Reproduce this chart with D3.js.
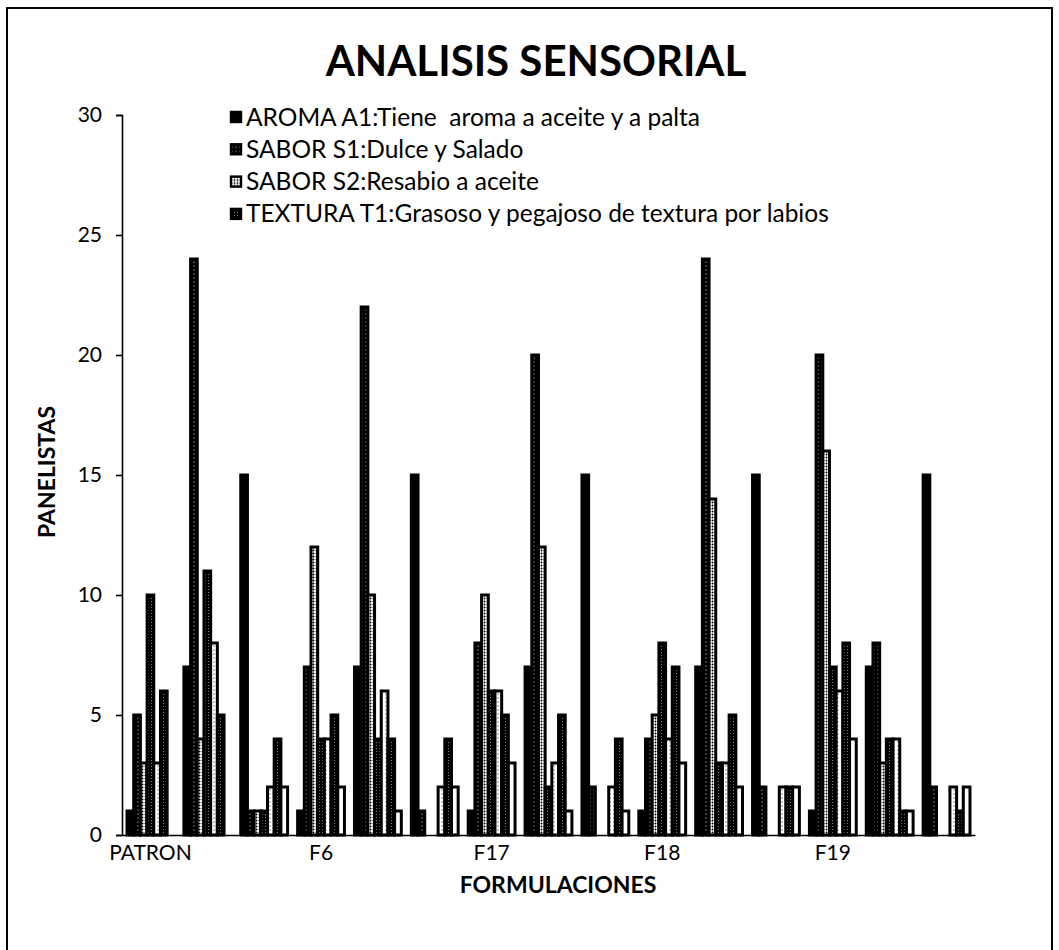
<!DOCTYPE html>
<html>
<head>
<meta charset="utf-8">
<script src="https://cdn.jsdelivr.net/npm/d3@7/dist/d3.min.js"></script>
<style>
  html, body { margin: 0; padding: 0; background: #fff; }
  svg { display: block; }
  text { font-family: Lato, "Open Sans", sans-serif; fill: #000; }
</style>
</head>
<body>
<script>
// Formulations; each one spans three consecutive categories on the x axis
const formulaciones = ["PATRON", "F6", "F17", "F18", "F19"];
const categories = formulaciones.flatMap(f => [f + "-a", f + "-b", f + "-c"]);

// Panelist counts per series, one value per category
const s1 = [1, 7, 15, 1, 7, 15, 1, 7, 15, 1, 7, 15, 1, 7, 15];
const s2 = [5, 24, 1, 7, 22, 1, 8, 20, 2, 4, 24, 2, 20, 8, 2];
const s3 = [3, 4, 1, 12, 10, 0, 10, 12, 0, 5, 14, 0, 16, 3, 0];
const s4 = [10, 11, 1, 4, 4, 0, 6, 2, 0, 8, 3, 0, 7, 4, 0];
const s5 = [3, 8, 2, 4, 6, 2, 6, 3, 2, 4, 3, 2, 6, 4, 2];
const s6 = [6, 5, 4, 5, 4, 4, 5, 5, 4, 7, 5, 2, 8, 1, 1];
const s7 = [0, 0, 2, 2, 1, 2, 3, 1, 1, 3, 2, 2, 4, 1, 2];

const series = [s1, s2, s3, s4, s5, s6, s7];
const legendLabels = [
  "AROMA A1:Tiene  aroma a aceite y a palta",
  "SABOR S1:Dulce y Salado",
  "SABOR S2:Resabio a aceite",
  "TEXTURA T1:Grasoso y pegajoso de textura por labios"
];
const yTicks = [0, 5, 10, 15, 20, 25, 30];

const W = 1059, H = 950;
const svg = d3.select("body").append("svg").attr("width", W).attr("height", H);

// Fill patterns for the bars
const defs = svg.append("defs");
function dotPattern(id, size, r, bg, fg) {
  const p = defs.append("pattern").attr("id", id).attr("patternUnits", "userSpaceOnUse")
    .attr("width", size).attr("height", size);
  p.append("rect").attr("width", size).attr("height", size).attr("fill", bg);
  p.append("circle").attr("cx", size / 2).attr("cy", size / 2).attr("r", r).attr("fill", fg);
}
dotPattern("speckle", 4, 0.6, "#000", "#fff");
dotPattern("dense", 3, 0.95, "#fff", "#000");
dotPattern("light", 4, 0.6, "#fff", "#000");
dotPattern("darkdots", 3, 0.45, "#000", "#fff");

const fills = ["#000", "url(#speckle)", "url(#dense)", "url(#darkdots)", "url(#light)", "url(#darkdots)", "#fff"];

// Outer frame
svg.append("rect").attr("x", 7).attr("y", 8).attr("width", 1045).attr("height", 1000)
  .attr("fill", "none").attr("stroke", "#000").attr("stroke-width", 2);

// Title
svg.append("text").attr("x", 536).attr("y", 76).attr("text-anchor", "middle")
  .style("font-size", "42px").style("font-weight", 700).text("ANALISIS SENSORIAL");

// Scales
const plot = { left: 122, right: 975, top: 115, bottom: 835 };
const x = d3.scaleBand().domain(categories).range([plot.left, plot.right])
  .paddingInner(1.5 / 8.5).paddingOuter(0.75 / 8.5);
const xs = d3.scaleBand().domain(d3.range(series.length)).range([0, x.bandwidth()]);
const y = d3.scaleLinear().domain([0, 30]).range([plot.bottom, plot.top]);

// Bars
series.forEach((vals, si) => {
  svg.append("g").selectAll("rect").data(vals.map((v, ci) => ({ v, c: categories[ci] })))
    .join("rect")
    .filter(d => d.v > 0)
    .attr("x", d => x(d.c) + xs(si))
    .attr("y", d => y(d.v))
    .attr("width", xs.bandwidth())
    .attr("height", d => y(0) - y(d.v))
    .attr("fill", fills[si])
    .attr("stroke", "#000")
    .attr("stroke-width", 3);
});

// Y axis
const yAxis = svg.append("g").attr("transform", `translate(${plot.left},0)`)
  .call(d3.axisLeft(y).tickValues(yTicks).tickSize(6).tickPadding(14));
yAxis.select(".domain").attr("stroke", "#000").attr("stroke-width", 1.6);
yAxis.selectAll(".tick line").attr("stroke", "#000").attr("stroke-width", 1.6);
yAxis.selectAll(".tick text").style("font-size", "21px").style("font-family", "Lato, sans-serif").attr("fill", "#000");

// X axis (labels on the first category of each formulation)
const xAxis = svg.append("g").attr("transform", `translate(0,${plot.bottom})`)
  .call(d3.axisBottom(x).tickSize(0).tickPadding(10)
    .tickValues(categories.filter((c, i) => i % 3 === 0))
    .tickFormat(c => c.replace(/-[abc]$/, "")));
xAxis.select(".domain").attr("stroke", "#000").attr("stroke-width", 1.6);
xAxis.selectAll(".tick text").style("font-size", "21px").style("font-family", "Lato, sans-serif").attr("fill", "#000");

// Axis titles
svg.append("text").attr("x", 558).attr("y", 893).attr("text-anchor", "middle")
  .style("font-size", "23px").style("font-weight", 700).text("FORMULACIONES");
svg.append("text").attr("transform", "translate(55,472) rotate(-90)").attr("text-anchor", "middle")
  .style("font-size", "23px").style("font-weight", 700).text("PANELISTAS");

// Legend
const lg = svg.append("g").attr("transform", "translate(230,117)");
legendLabels.forEach((lab, i) => {
  const row = lg.append("g").attr("transform", `translate(0,${i * 32.3})`);
  row.append("rect").attr("x", 1).attr("y", -5).attr("width", 10).attr("height", 10)
    .attr("fill", fills[i]).attr("stroke", "#000").attr("stroke-width", 2.4);
  row.append("text").attr("x", 16).attr("y", 8.5).style("font-size", "24.5px")
    .style("white-space", "pre").text(lab);
});
</script>
</body>
</html>
